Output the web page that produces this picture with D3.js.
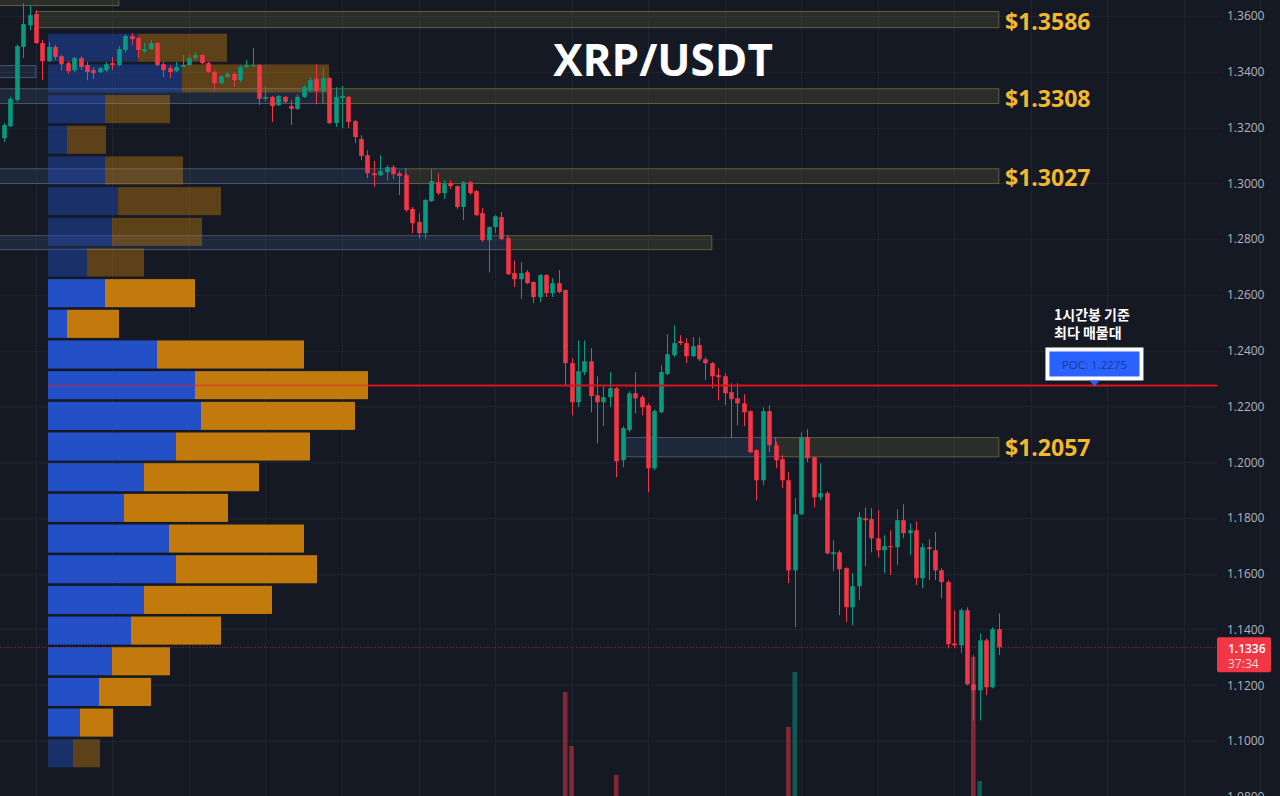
<!DOCTYPE html>
<html>
<head>
<meta charset="utf-8">
<script src="https://cdn.jsdelivr.net/npm/d3@7"></script>
<style>
  html, body { margin: 0; padding: 0; background: #151924; overflow: hidden; }
  svg { display: block; }
</style>
</head>
<body>
<div class="chart"></div>
<script>
const title = "XRP/USDT";

// 1h candles, [open, high, low, close]
const ohlc = [
  [1.3162,1.3216,1.3148,1.3209],[1.3205,1.3310,1.3202,1.3303],[1.3299,1.3499,1.3292,1.3492],[1.3489,1.3646,1.3449,1.3571],
  [1.3567,1.3639,1.3549,1.3603],[1.3607,1.3621,1.3500,1.3503],[1.3503,1.3514,1.3370,1.3438],[1.3438,1.3506,1.3435,1.3489],
  [1.3489,1.3496,1.3442,1.3453],[1.3456,1.3460,1.3406,1.3427],[1.3431,1.3438,1.3392,1.3402],[1.3406,1.3453,1.3399,1.3449],
  [1.3449,1.3456,1.3406,1.3417],[1.3424,1.3435,1.3370,1.3399],[1.3406,1.3417,1.3374,1.3395],[1.3399,1.3417,1.3395,1.3413],
  [1.3406,1.3435,1.3399,1.3427],[1.3431,1.3453,1.3406,1.3424],[1.3424,1.3492,1.3420,1.3481],[1.3478,1.3535,1.3470,1.3528],
  [1.3528,1.3539,1.3496,1.3517],[1.3521,1.3524,1.3449,1.3478],[1.3474,1.3503,1.3467,1.3481],[1.3481,1.3514,1.3478,1.3503],
  [1.3503,1.3506,1.3420,1.3424],[1.3427,1.3435,1.3381,1.3406],[1.3413,1.3424,1.3377,1.3399],[1.3402,1.3435,1.3399,1.3417],
  [1.3417,1.3460,1.3417,1.3424],[1.3424,1.3460,1.3420,1.3449],[1.3449,1.3471,1.3442,1.3460],[1.3460,1.3463,1.3427,1.3431],
  [1.3431,1.3435,1.3395,1.3399],[1.3399,1.3406,1.3334,1.3359],[1.3359,1.3388,1.3356,1.3384],[1.3381,1.3399,1.3377,1.3392],
  [1.3392,1.3395,1.3345,1.3370],[1.3370,1.3424,1.3363,1.3417],[1.3417,1.3442,1.3413,1.3424],[1.3420,1.3485,1.3417,1.3424],
  [1.3424,1.3427,1.3281,1.3303],[1.3303,1.3349,1.3292,1.3310],[1.3310,1.3313,1.3220,1.3277],[1.3281,1.3317,1.3277,1.3313],
  [1.3310,1.3313,1.3288,1.3292],[1.3277,1.3299,1.3209,1.3267],[1.3267,1.3320,1.3263,1.3310],[1.3310,1.3352,1.3306,1.3345],
  [1.3334,1.3381,1.3327,1.3370],[1.3374,1.3427,1.3284,1.3331],[1.3331,1.3417,1.3327,1.3377],[1.3377,1.3381,1.3212,1.3216],
  [1.3216,1.3345,1.3202,1.3310],[1.3306,1.3349,1.3198,1.3313],[1.3310,1.3313,1.3198,1.3220],[1.3223,1.3227,1.3144,1.3166],
  [1.3159,1.3173,1.3083,1.3098],[1.3101,1.3119,1.3018,1.3036],[1.3036,1.3080,1.2987,1.3029],[1.3029,1.3101,1.3026,1.3044],
  [1.3040,1.3065,1.3011,1.3058],[1.3058,1.3065,1.3015,1.3033],[1.3036,1.3044,1.2958,1.3026],[1.3029,1.3036,1.2897,1.2904],
  [1.2908,1.2915,1.2821,1.2857],[1.2861,1.2893,1.2803,1.2821],[1.2821,1.2944,1.2800,1.2940],[1.2936,1.3051,1.2933,1.3008],
  [1.3004,1.3036,1.2958,1.2965],[1.2965,1.3011,1.2944,1.2997],[1.3001,1.3011,1.2979,1.2990],[1.2990,1.2993,1.2908,1.2915],
  [1.2915,1.3008,1.2868,1.3004],[1.3004,1.3008,1.2958,1.2965],[1.2972,1.2976,1.2882,1.2886],[1.2893,1.2911,1.2789,1.2796],
  [1.2796,1.2846,1.2681,1.2843],[1.2843,1.2886,1.2821,1.2882],[1.2879,1.2897,1.2796,1.2800],[1.2803,1.2807,1.2671,1.2674],
  [1.2678,1.2724,1.2628,1.2656],[1.2656,1.2717,1.2585,1.2678],[1.2681,1.2689,1.2638,1.2642],[1.2646,1.2649,1.2570,1.2592],
  [1.2592,1.2674,1.2574,1.2671],[1.2671,1.2674,1.2592,1.2606],[1.2606,1.2660,1.2592,1.2642],[1.2642,1.2689,1.2606,1.2610],
  [1.2617,1.2620,1.2276,1.2355],[1.2355,1.2373,1.2168,1.2215],[1.2215,1.2437,1.2197,1.2326],[1.2323,1.2437,1.2312,1.2362],
  [1.2362,1.2409,1.2179,1.2237],[1.2240,1.2308,1.2068,1.2215],[1.2215,1.2276,1.2129,1.2233],[1.2233,1.2323,1.2197,1.2265],
  [1.2265,1.2269,1.1946,1.2003],[1.2007,1.2129,1.1982,1.2122],[1.2115,1.2254,1.2107,1.2247],[1.2247,1.2323,1.2175,1.2229],
  [1.2233,1.2240,1.2168,1.2197],[1.2204,1.2211,1.1892,1.1978],[1.1978,1.2190,1.1971,1.2183],[1.2179,1.2348,1.2175,1.2323],
  [1.2316,1.2459,1.2312,1.2387],[1.2384,1.2491,1.2377,1.2427],[1.2434,1.2455,1.2420,1.2427],[1.2427,1.2445,1.2355,1.2380],
  [1.2380,1.2448,1.2377,1.2416],[1.2420,1.2448,1.2362,1.2369],[1.2369,1.2377,1.2294,1.2355],[1.2355,1.2359,1.2265,1.2308],
  [1.2312,1.2337,1.2222,1.2305],[1.2308,1.2319,1.2204,1.2247],[1.2251,1.2283,1.2086,1.2226],[1.2229,1.2283,1.2132,1.2211],
  [1.2211,1.2244,1.2129,1.2179],[1.2183,1.2186,1.2032,1.2036],[1.2043,1.2047,1.1863,1.1935],[1.1935,1.2197,1.1917,1.2183],
  [1.2183,1.2204,1.2036,1.2061],[1.2061,1.2072,1.1978,1.2007],[1.2011,1.2025,1.1907,1.1935],[1.1935,1.1964,1.1566,1.1612],
  [1.1612,1.1871,1.1408,1.1813],[1.1813,1.2107,1.1810,1.2090],[1.2090,1.2118,1.2000,1.2014],[1.2018,1.2018,1.1838,1.1874],
  [1.1874,1.1996,1.1863,1.1889],[1.1889,1.1896,1.1670,1.1673],[1.1670,1.1720,1.1609,1.1677],[1.1677,1.1684,1.1451,1.1616],
  [1.1620,1.1623,1.1426,1.1480],[1.1480,1.1602,1.1415,1.1555],[1.1555,1.1821,1.1505,1.1803],[1.1799,1.1838,1.1627,1.1792],
  [1.1796,1.1835,1.1677,1.1727],[1.1727,1.1828,1.1659,1.1684],[1.1684,1.1738,1.1602,1.1699],[1.1699,1.1756,1.1595,1.1695],
  [1.1695,1.1831,1.1631,1.1792],[1.1792,1.1849,1.1727,1.1745],[1.1745,1.1781,1.1666,1.1756],[1.1756,1.1788,1.1559,1.1584],
  [1.1584,1.1709,1.1548,1.1695],[1.1695,1.1724,1.1577,1.1688],[1.1684,1.1749,1.1577,1.1612],[1.1612,1.1620,1.1512,1.1570],
  [1.1570,1.1577,1.1333,1.1347],[1.1350,1.1469,1.1333,1.1343],[1.1343,1.1476,1.1315,1.1469],[1.1469,1.1480,1.1200,1.1203],
  [1.1203,1.1308,1.1074,1.1182],[1.1182,1.1386,1.1074,1.1361],[1.1361,1.1368,1.1164,1.1193],[1.1193,1.1408,1.1189,1.1401],
  [1.1401,1.1458,1.1308,1.1336]
];

// only the volume spikes reach into view: [candle index, volume (M)]
const volumeSpikes = [[88, 114], [89, 60], [96, 31], [123, 79], [124, 134], [152, 149], [153, 25]];

// volume profile, 24 rows from the top price down
const profileTop = 1.3540;
const profileRowSize = 0.0110;
const profileBuy  = [90, 134, 57, 19, 57, 70, 64, 39, 57, 19, 109, 147, 153, 128, 96, 76, 121, 128, 96, 83, 64, 51, 32, 25];
const profileSell = [89, 147, 65, 39, 78, 103, 90, 57, 90, 52, 147, 173, 154, 134, 115, 104, 135, 141, 128, 90, 58, 52, 33, 27];
const valueArea = [8, 22];

const priceTicks = [1.36, 1.34, 1.32, 1.30, 1.28, 1.26, 1.24, 1.22, 1.20, 1.18, 1.16, 1.14, 1.12, 1.10, 1.08];

// support / resistance zones: price band, candle span, style
const zones = [
  {top: 1.3700, bottom: 1.3639, from: -1, to: 18, kind: "olive"},
  {top: 1.3618, bottom: 1.3560, from: 5, to: 156, kind: "olive"},
  {top: 1.3424, bottom: 1.3381, from: -1, to: 5, kind: "blue"},
  {top: 1.3341, bottom: 1.3288, from: -1, to: 50, kind: "blue"},
  {top: 1.3341, bottom: 1.3288, from: 50, to: 156, kind: "olive"},
  {top: 1.3054, bottom: 1.3001, from: -1, to: 63, kind: "blue"},
  {top: 1.3054, bottom: 1.3001, from: 63, to: 156, kind: "olive"},
  {top: 1.2814, bottom: 1.2764, from: -1, to: 79, kind: "blue"},
  {top: 1.2814, bottom: 1.2764, from: 79, to: 111, kind: "olive"},
  {top: 1.2090, bottom: 1.2021, from: 97.5, to: 121, kind: "blue"},
  {top: 1.2090, bottom: 1.2021, from: 121, to: 156, kind: "olive"}
];

const levelPrices = [1.3586, 1.3308, 1.3027, 1.2057];

const pocPrice = 1.2275;
const pocNote = ["1시간봉 기준", "최다 매물대"];
const lastPrice = 1.1336;
const countdown = "37:34";

const WIDTH = 1280, HEIGHT = 796;
const plotRight = 1217;
const UP = "#089981", DOWN = "#f23645";

const svg = d3.select(".chart").append("svg")
  .attr("width", WIDTH).attr("height", HEIGHT)
  .style("background", "#151924")
  .style("font-family", "'Open Sans', 'Noto Sans', sans-serif");

const x = d3.scaleLinear().domain([0, ohlc.length - 1]).range([4, 998.8]);
const y = d3.scaleLinear().domain([1.08, 1.36]).range([796.8, 16]);
const volY = d3.scaleLinear().domain([0, 150]).range([806, 656]);
const profX = d3.scaleLinear().domain([0, 320]).range([48, 368]);

// grid
const grid = svg.append("g");
grid.selectAll("line.h").data(priceTicks).enter().append("line")
  .attr("x1", 0).attr("x2", plotRight)
  .attr("y1", d => Math.round(y(d)) + 0.5).attr("y2", d => Math.round(y(d)) + 0.5)
  .attr("stroke", "#1f2330");
grid.selectAll("line.v").data(d3.range(5, 200, 12)).enter().append("line")
  .attr("x1", d => Math.round(x(d)) + 0.5).attr("x2", d => Math.round(x(d)) + 0.5)
  .attr("y1", 0).attr("y2", HEIGHT)
  .attr("stroke", "#1f2330");

// zones
const zoneStyle = {
  olive: {fill: "rgba(120,118,60,0.22)", stroke: "rgba(150,145,70,0.55)"},
  blue: {fill: "rgba(70,95,135,0.22)", stroke: "rgba(120,140,175,0.5)"}
};
svg.append("g").selectAll("rect").data(zones).enter().append("rect")
  .attr("x", d => x(d.from)).attr("width", d => x(d.to) - x(d.from))
  .attr("y", d => y(d.top) + 0.5).attr("height", d => y(d.bottom) - y(d.top))
  .attr("fill", d => zoneStyle[d.kind].fill)
  .attr("stroke", d => zoneStyle[d.kind].stroke)
  .attr("stroke-width", 1);

// volume profile
const rows = profileBuy.map((b, i) => ({
  i, buy: b, sell: profileSell[i],
  top: profileTop - i * profileRowSize,
  bottom: profileTop - (i + 1) * profileRowSize,
  inVA: i >= valueArea[0] && i <= valueArea[1]
}));
const prof = svg.append("g").selectAll("g").data(rows).enter().append("g")
  .attr("opacity", d => d.inVA ? 1 : 0.42);
prof.append("rect")
  .attr("x", profX(0)).attr("width", d => profX(d.buy) - profX(0))
  .attr("y", d => y(d.top) + 1).attr("height", d => y(d.bottom) - y(d.top) - 2.6)
  .attr("fill", "#2350c6");
prof.append("rect")
  .attr("x", d => profX(d.buy)).attr("width", d => profX(d.buy + d.sell) - profX(d.buy))
  .attr("y", d => y(d.top) + 1).attr("height", d => y(d.bottom) - y(d.top) - 2.6)
  .attr("fill", "#c27a0c");

// volume spikes (pane below)
const bodyW = 4.6;
svg.append("g").selectAll("rect").data(volumeSpikes).enter().append("rect")
  .attr("x", d => x(d[0]) - bodyW / 2).attr("width", bodyW)
  .attr("y", d => volY(d[1])).attr("height", d => volY(0) - volY(d[1]))
  .attr("fill", d => ohlc[d[0]][3] >= ohlc[d[0]][0] ? UP : DOWN)
  .attr("opacity", 0.5);

// candles
const candle = svg.append("g").selectAll("g").data(ohlc).enter().append("g")
  .attr("fill", d => d[3] >= d[0] ? UP : DOWN)
  .attr("stroke", d => d[3] >= d[0] ? UP : DOWN);
candle.append("line")
  .attr("x1", (d, i) => Math.round(x(i)) + 0.5).attr("x2", (d, i) => Math.round(x(i)) + 0.5)
  .attr("y1", d => y(d[1])).attr("y2", d => y(d[2]))
  .attr("stroke-width", 1);
candle.append("rect")
  .attr("stroke", "none")
  .attr("x", (d, i) => Math.round(x(i)) + 0.5 - bodyW / 2).attr("width", bodyW)
  .attr("y", d => y(Math.max(d[0], d[3])))
  .attr("height", d => Math.max(1.2, Math.abs(y(d[0]) - y(d[3]))));

// current price dotted line
svg.append("line")
  .attr("x1", 0).attr("x2", plotRight)
  .attr("y1", y(lastPrice)).attr("y2", y(lastPrice))
  .attr("stroke", DOWN).attr("stroke-width", 1).attr("stroke-dasharray", "1,2").attr("opacity", 0.6);

// POC line, faded where it crosses the profile
const profEnd = profX(d3.max(rows, d => d.buy + d.sell));
svg.append("line")
  .attr("x1", profX(0)).attr("x2", profEnd).attr("y1", y(pocPrice)).attr("y2", y(pocPrice))
  .attr("stroke", "#e8202e").attr("stroke-width", 2).attr("opacity", 0.45);
svg.append("line")
  .attr("x1", profEnd).attr("x2", plotRight).attr("y1", y(pocPrice)).attr("y2", y(pocPrice))
  .attr("stroke", "#d9141f").attr("stroke-width", 2);

// level labels
svg.append("g").selectAll("text").data(levelPrices).enter().append("text")
  .attr("x", 1005).attr("y", d => y(d) + 1)
  .attr("dominant-baseline", "central")
  .attr("font-size", 23).attr("font-weight", 700)
  .attr("fill", "#f4b82e")
  .text(d => "$" + d3.format(".4f")(d));

// title
svg.append("text")
  .attr("x", 663).attr("y", 76)
  .attr("text-anchor", "middle")
  .attr("font-size", 44).attr("font-weight", 700)
  .attr("fill", "#ffffff")
  .text(title);

// POC note + badge
const pocX = x(171);
svg.append("g").selectAll("text").data(pocNote).enter().append("text")
  .attr("x", 1054).attr("y", (d, i) => 320 + i * 18)
  .attr("font-family", "'Noto Sans CJK KR', sans-serif")
  .attr("font-size", 14).attr("font-weight", 700)
  .attr("fill", "#ffffff")
  .text(d => d);
svg.append("rect").attr("x", pocX - 49).attr("y", y(pocPrice) - 38).attr("width", 98).attr("height", 33).attr("fill", "#ffffff");
svg.append("rect").attr("x", pocX - 45).attr("y", y(pocPrice) - 34).attr("width", 90).attr("height", 25).attr("fill", "#2962ff");
svg.append("text")
  .attr("x", pocX).attr("y", y(pocPrice) - 21)
  .attr("text-anchor", "middle").attr("dominant-baseline", "central")
  .attr("font-size", 11.5).attr("fill", "#1a3a8f")
  .text("POC: " + d3.format(".4f")(pocPrice));
svg.append("path")
  .attr("d", `M${pocX - 5},${y(pocPrice) - 5}L${pocX + 5},${y(pocPrice) - 5}L${pocX},${y(pocPrice) + 1}Z`)
  .attr("fill", "#2962ff");

// price axis
const axis = svg.append("g")
  .attr("transform", `translate(${plotRight + 8},0)`)
  .call(d3.axisRight(y).tickValues(priceTicks).tickFormat(d3.format(".4f")).tickSize(0).tickPadding(2));
axis.select(".domain").remove();
axis.selectAll("text")
  .attr("font-size", 12).attr("fill", "#b2b5be")
  .attr("font-family", "'Open Sans', sans-serif");

// last price badge
const lp = svg.append("g");
lp.append("rect")
  .attr("x", plotRight).attr("y", y(lastPrice) - 10).attr("width", 54).attr("height", 35)
  .attr("rx", 2).attr("fill", DOWN);
lp.append("text")
  .attr("x", plotRight + 11).attr("y", y(lastPrice) + 1)
  .attr("dominant-baseline", "central")
  .attr("font-size", 12).attr("font-weight", 600).attr("fill", "#ffffff")
  .text(d3.format(".4f")(lastPrice));
lp.append("text")
  .attr("x", plotRight + 11).attr("y", y(lastPrice) + 16)
  .attr("dominant-baseline", "central")
  .attr("font-size", 12).attr("fill", "#ffd5d8")
  .text(countdown);
</script>
</body>
</html>
